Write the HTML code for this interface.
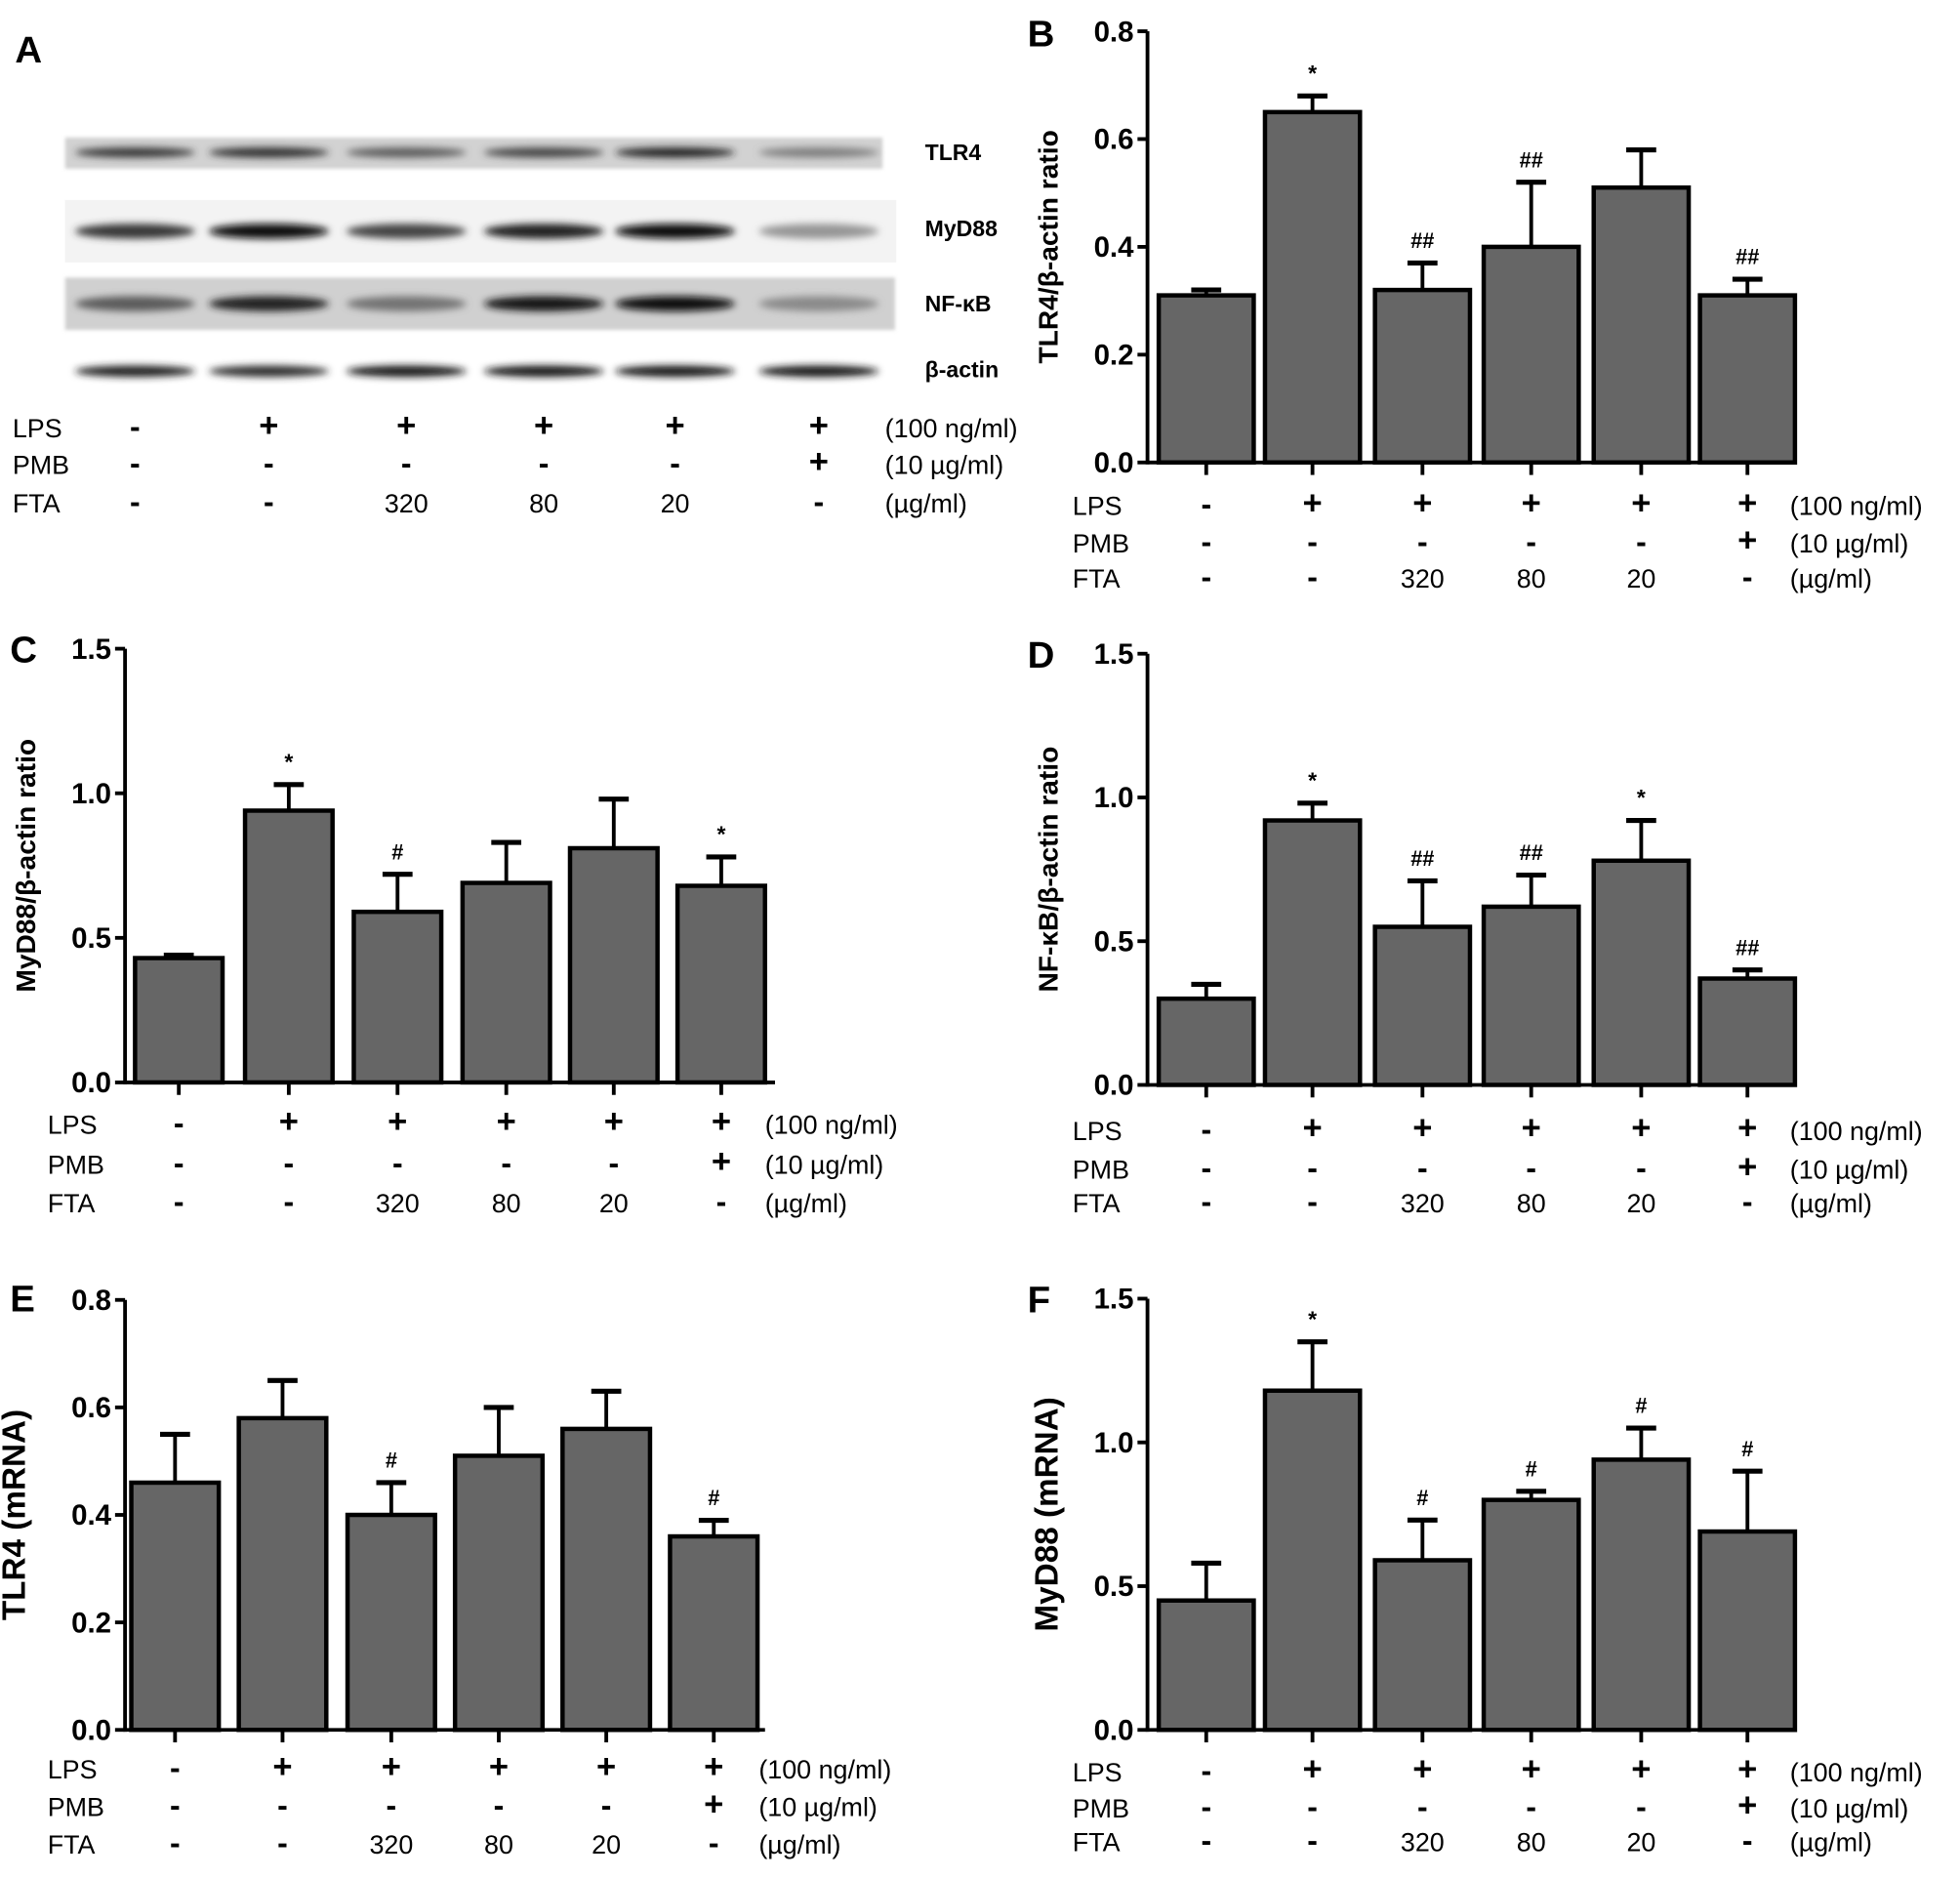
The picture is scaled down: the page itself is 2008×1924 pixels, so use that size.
<!DOCTYPE html>
<html><head><meta charset="utf-8"><style>
html,body{margin:0;padding:0;background:#fff;}
svg{display:block;}
text{font-family:"Liberation Sans",Arial,sans-serif;}
</style></head><body>
<svg id="fig" width="2008" height="1924" viewBox="0 0 1568 1502.5" xmlns="http://www.w3.org/2000/svg">
<defs>
<filter id="blur" x="-20%" y="-100%" width="140%" height="300%"><feGaussianBlur stdDeviation="3"/></filter>
<filter id="blur2"><feGaussianBlur stdDeviation="1.5"/></filter>
</defs>
<g id="panelA">
<text x="12" y="50" font-size="30" font-weight="bold">A</text>
<rect x="52" y="110" width="654" height="25" fill="#d2d2d2" filter="url(#blur2)"/>
<rect x="52" y="160" width="665" height="50" fill="#f3f3f3"/>
<rect x="52" y="222" width="664" height="42" fill="#d0d0d0" filter="url(#blur2)"/>
<g id="bands"></g>
<text x="740" y="128" font-size="18" font-weight="bold">TLR4</text>
<text x="740" y="189" font-size="18" font-weight="bold">MyD88</text>
<text x="740" y="249" font-size="18" font-weight="bold">NF-κB</text>
<text x="740" y="302" font-size="18" font-weight="bold">β-actin</text>
</g>
<g id="charts"></g>
</svg>
<script>
const NS="http://www.w3.org/2000/svg";
const treatLPS=["-","+","+","+","+","+"];
const treatPMB=["-","-","-","-","-","+"];
const treatFTA=["-","-","320","80","20","-"];
const unitLabels=["(100 ng/ml)","(10 µg/ml)","(µg/ml)"];
const rowNames=["LPS","PMB","FTA"];

const bValues=[0.31,0.65,0.32,0.40,0.51,0.31];
const bErrors=[0.01,0.03,0.05,0.12,0.07,0.03];
const bMarks=["","*","##","##","","##"];
const bTicks=[0.0,0.2,0.4,0.6,0.8];

const cValues=[0.43,0.94,0.59,0.69,0.81,0.68];
const cErrors=[0.01,0.09,0.13,0.14,0.17,0.10];
const cMarks=["","*","#","","","*"];
const cTicks=[0.0,0.5,1.0,1.5];

const dValues=[0.30,0.92,0.55,0.62,0.78,0.37];
const dErrors=[0.05,0.06,0.16,0.11,0.14,0.03];
const dMarks=["","*","##","##","*","##"];
const dTicks=[0.0,0.5,1.0,1.5];

const eValues=[0.46,0.58,0.40,0.51,0.56,0.36];
const eErrors=[0.09,0.07,0.06,0.09,0.07,0.03];
const eMarks=["","","#","","","#"];
const eTicks=[0.0,0.2,0.4,0.6,0.8];

const fValues=[0.45,1.18,0.59,0.80,0.94,0.69];
const fErrors=[0.13,0.17,0.14,0.03,0.11,0.21];
const fMarks=["","*","#","#","#","#"];
const fTicks=[0.0,0.5,1.0,1.5];

const bandTLR4=[0.75,0.8,0.6,0.7,0.85,0.45];
const bandMyD88=[0.75,0.95,0.7,0.85,0.95,0.35];
const bandNFkB=[0.6,0.85,0.5,0.9,0.95,0.4];
const bandActin=[0.85,0.8,0.9,0.9,0.9,0.9];

function el(tag,attrs,parent){const e=document.createElementNS(NS,tag);for(const k in attrs)e.setAttribute(k,attrs[k]);parent.appendChild(e);return e;}
function txt(x,y,s,size,weight,anchor,parent){const t=el("text",{x:x,y:y,"font-size":size,"font-weight":weight||"normal","text-anchor":anchor||"start"},parent);t.textContent=s;return t;}

const bandsG=document.getElementById("bands");
const laneX=[108,215,325,435,540,655];
function drawBands(arr,y,name,h){
  arr.forEach((v,i)=>{
    const g=Math.round(255*(1-v)*0.9);
    const b=el("ellipse",{cx:laneX[i],cy:y,rx:48,ry:h,fill:`rgb(${g},${g},${g})`,filter:"url(#blur)"},bandsG);
    
    
  });
}
drawBands(bandTLR4,122,"tlr4",4);
drawBands(bandMyD88,185,"myd88",6);
drawBands(bandNFkB,243,"nfkb",6);
drawBands(bandActin,297,"beta-actin",4.5);

function treatmentRows(parent,xs,rowLabelX,rowYs,unitX,prefix){
  const rows=[treatLPS,treatPMB,treatFTA];
  rows.forEach((row,r)=>{
    const l=txt(rowLabelX,rowYs[r],rowNames[r],21,"normal","start",parent);
    
    
    row.forEach((s,i)=>{
      let size=21,w="normal";
      if(s==="+"){size=27;w="bold";}
      if(s==="-"){size=25;w="bold";}
      const t=txt(xs[i],rowYs[r]+(s==="+"?-1:0),s,size,w,"middle",parent);
      
      
    });
    const u=txt(unitX,rowYs[r],unitLabels[r],21,"normal","start",parent);
    
    
  });
}

treatmentRows(document.getElementById("panelA"),laneX,10,[350,379,410],708,"panel-a");

function panel(cfg){
  const root=document.getElementById("charts");
  const g=el("g",{},root);
  
  
  const yMax=cfg.ticks[cfg.ticks.length-1];
  const y=v=>cfg.y0+(cfg.yTop-cfg.y0)*(v/yMax);
  const x=i=>cfg.xs[i];
  const L=txt(cfg.letterX,cfg.letterY,cfg.letter,30,"bold","start",g);
  
  
  cfg.values.forEach((v,i)=>{
    const top=y(v+cfg.errors[i]);
    const eb=el("line",{x1:x(i),x2:x(i),y1:y(v),y2:top,stroke:"#000","stroke-width":3},g);
    
    
    const cap=el("line",{x1:x(i)-12,x2:x(i)+12,y1:top,y2:top,stroke:"#000","stroke-width":4},g);
    
    
    const bar=el("rect",{x:x(i)-cfg.bw/2,y:y(v),width:cfg.bw,height:cfg.y0-y(v),fill:"#666",stroke:"#000","stroke-width":3.5},g);
    
    
    if(cfg.marks[i]){
      const m=txt(x(i),top-12,cfg.marks[i],cfg.marks[i]==="*"?18:17,"bold","middle",g);
      
      
    }
  });
  const ya=el("line",{x1:cfg.ax,x2:cfg.ax,y1:cfg.yTop,y2:cfg.y0+1.5,stroke:"#000","stroke-width":3},g);
  
  
  const xa=el("line",{x1:cfg.ax,x2:cfg.xEnd,y1:cfg.y0,y2:cfg.y0,stroke:"#000","stroke-width":3},g);
  
  
  cfg.ticks.forEach(t=>{
    const tk=el("line",{x1:cfg.ax-8,x2:cfg.ax,y1:y(t),y2:y(t),stroke:"#000","stroke-width":3},g);
    
    
    const tl=txt(cfg.ax-11,y(t)+8,t.toFixed(1),23,"bold","end",g);
    
    
  });
  cfg.xs.forEach((xx,i)=>{
    const tk=el("line",{x1:xx,x2:xx,y1:cfg.y0,y2:cfg.y0+10,stroke:"#000","stroke-width":3},g);
    
    
  });
  const mid=(cfg.y0+cfg.yTop)/2;
  const yl=txt(0,0,cfg.ylabel,cfg.ylsize||22,"bold","middle",g);
  yl.setAttribute("transform",`translate(${cfg.ax-cfg.ylOff},${mid}) rotate(-90)`);
  
  
  treatmentRows(g,cfg.xs,cfg.rowX,cfg.rows,cfg.unitX,"panel-"+cfg.letter.toLowerCase());
}
const rightXs=[965,1050,1138,1225,1313,1398];
panel({letter:"B",letterX:822,letterY:37,ax:918,xEnd:1435,yTop:25,y0:370,ticks:bTicks,values:bValues,errors:bErrors,marks:bMarks,xs:rightXs,bw:76,ylabel:"TLR4/β-actin ratio",ylOff:72,rowX:858,rows:[412,442,470],unitX:1432});
panel({letter:"C",letterX:8,letterY:530,ax:100,xEnd:620,yTop:519,y0:866,ticks:cTicks,values:cValues,errors:cErrors,marks:cMarks,xs:[143,231,318,405,491,577],bw:70,ylabel:"MyD88/β-actin ratio",ylOff:72,rowX:38,rows:[907,939,970],unitX:612});
panel({letter:"D",letterX:822,letterY:534,ax:918,xEnd:1435,yTop:523,y0:868,ticks:dTicks,values:dValues,errors:dErrors,marks:dMarks,xs:rightXs,bw:76,ylabel:"NF-κB/β-actin ratio",ylOff:72,rowX:858,rows:[912,943,970],unitX:1432});
panel({letter:"E",letterX:8,letterY:1049,ax:100,xEnd:612,yTop:1040,y0:1384,ticks:eTicks,values:eValues,errors:eErrors,marks:eMarks,xs:[140,226,313,399,485,571],bw:70,ylabel:"TLR4 (mRNA)",ylsize:26,ylOff:80,rowX:38,rows:[1423,1453,1483],unitX:607});
panel({letter:"F",letterX:822,letterY:1050,ax:918,xEnd:1435,yTop:1039,y0:1384,ticks:fTicks,values:fValues,errors:fErrors,marks:fMarks,xs:rightXs,bw:76,ylabel:"MyD88 (mRNA)",ylsize:26,ylOff:72,rowX:858,rows:[1425,1454,1481],unitX:1432});
</script>
</body></html>
